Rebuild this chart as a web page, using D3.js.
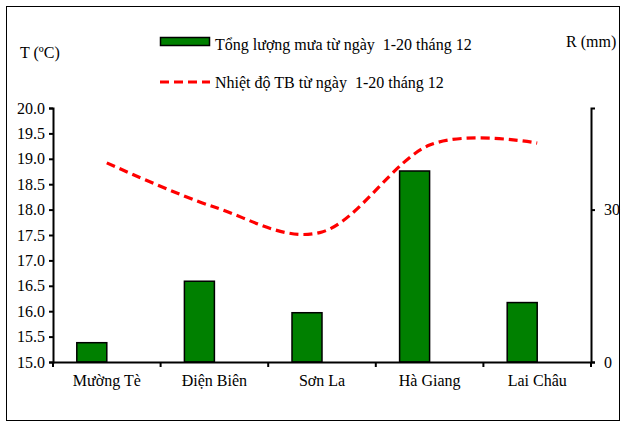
<!DOCTYPE html>
<html>
<head>
<meta charset="utf-8">
<script src="https://cdn.jsdelivr.net/npm/d3@7"></script>
<style>
  html, body { margin: 0; padding: 0; background: #fff; }
  svg text { fill: #000; white-space: pre; }
</style>
</head>
<body>
<svg id="chart" width="627" height="425"></svg>
<script>
const categories = ["Mường Tè", "Điện Biên", "Sơn La", "Hà Giang", "Lai Châu"];
const rainfall = [3.8, 15.9, 9.7, 37.6, 11.7];        // R (mm)
const temperature = [18.92, 18.05, 17.56, 19.27, 19.31]; // T (°C)
const leftTicks = [15.0, 15.5, 16.0, 16.5, 17.0, 17.5, 18.0, 18.5, 19.0, 19.5, 20.0];
const rightTicks = [0, 30];
const legendLabels = ["Tổng lượng mưa từ ngày  1-20 tháng 12", "Nhiệt độ TB từ ngày  1-20 tháng 12"];

const FONT = "'Liberation Serif', 'DejaVu Serif', serif";
const svg = d3.select("#chart").attr("font-family", FONT).style("font-family", FONT);
const plot = { left: 53, right: 591, top: 108, bottom: 362 };

// outer frame
svg.append("rect").attr("x", 6.5).attr("y", 6.5).attr("width", 613).attr("height", 414)
  .attr("fill", "none").attr("stroke", "#000").attr("stroke-width", 1);

const x = d3.scaleBand().domain(categories).range([plot.left, plot.right]).padding(0);
const yT = d3.scaleLinear().domain([15, 20]).range([plot.bottom, plot.top]);
const yR = d3.scaleLinear().domain([0, 50]).range([plot.bottom, plot.top]);

// bars (left half of each category band, ending at band centre)
const barW = 30;
svg.append("g").selectAll("rect").data(categories).join("rect")
  .attr("x", (d) => x(d) + x.bandwidth() / 2 - barW)
  .attr("y", (d, i) => yR(rainfall[i]))
  .attr("width", barW)
  .attr("height", (d, i) => yR(0) - yR(rainfall[i]))
  .attr("fill", "#008000").attr("stroke", "#000").attr("stroke-width", 1.5);

// temperature smoothed dashed line
const line = d3.line()
  .x((d, i) => x(categories[i]) + x.bandwidth() / 2)
  .y((d) => yT(d))
  .curve(d3.curveCatmullRom.alpha(0));
svg.append("path").datum(temperature)
  .attr("d", line)
  .attr("fill", "none").attr("stroke", "#ff0000").attr("stroke-width", 3.2)
  .attr("stroke-dasharray", "9,5");

// left axis
const gL = svg.append("g").attr("transform", `translate(${plot.left},0)`)
  .call(d3.axisLeft(yT).tickValues(leftTicks).tickFormat(d3.format(".1f")).tickSize(4).tickPadding(4));
// right axis
const gR = svg.append("g").attr("transform", `translate(${plot.right},0)`)
  .call(d3.axisRight(yR).tickValues(rightTicks).tickSize(4).tickPadding(9));
// bottom axis
const gB = svg.append("g").attr("transform", `translate(0,${plot.bottom})`)
  .call(d3.axisBottom(x).tickSize(0).tickPadding(13));
// category boundary ticks
svg.append("g").selectAll("line").data(d3.range(categories.length + 1)).join("line")
  .attr("x1", (i) => plot.left + i * x.bandwidth())
  .attr("x2", (i) => plot.left + i * x.bandwidth())
  .attr("y1", plot.bottom).attr("y2", plot.bottom + 5)
  .attr("stroke", "#000").attr("stroke-width", 2);

[gL, gR, gB].forEach((g) => {
  g.attr("font-family", FONT);
  g.select(".domain").attr("stroke", "#000").attr("stroke-width", 2);
  g.selectAll(".tick line").attr("stroke", "#000").attr("stroke-width", 2);
  g.selectAll("text").attr("font-size", 16).style("font-family", FONT);
});

// axis titles
svg.append("text").attr("x", 20).attr("y", 58).attr("font-size", 16).style("font-family", FONT).text("T (ºC)");
svg.append("text").attr("x", 566).attr("y", 47).attr("font-size", 16).style("font-family", FONT).text("R (mm)");

// legend
svg.append("rect").attr("x", 160.5).attr("y", 37.5).attr("width", 49).attr("height", 8)
  .attr("fill", "#008000").attr("stroke", "#000").attr("stroke-width", 1.5);
svg.append("text").attr("x", 215).attr("y", 50).attr("font-size", 16).style("font-family", FONT).text(legendLabels[0]);
svg.append("line").attr("x1", 160).attr("x2", 210).attr("y1", 82).attr("y2", 82)
  .attr("stroke", "#ff0000").attr("stroke-width", 3.2).attr("stroke-dasharray", "9,5");
svg.append("text").attr("x", 215).attr("y", 88).attr("font-size", 16).style("font-family", FONT).text(legendLabels[1]);
</script>
</body>
</html>
